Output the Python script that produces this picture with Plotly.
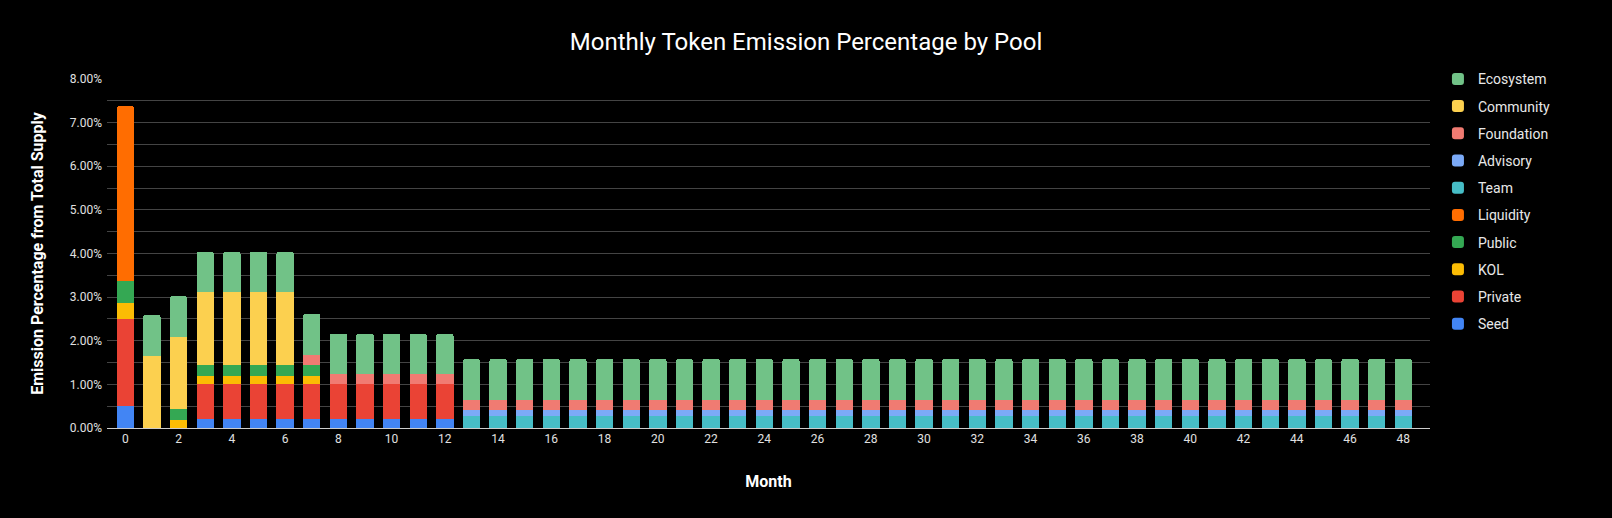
import plotly.graph_objects as go

months = list(range(49))
tick_months = [0, 2, 4, 6, 8, 10, 12, 14, 16, 18, 20, 22, 24, 26, 28, 30, 32, 34, 36, 38, 40, 42, 44, 46, 48]

# Values in % of total supply, months 0..48
seed = [0.5, 0, 0, 0.2, 0.2, 0.2, 0.2, 0.2, 0.2, 0.2, 0.2, 0.2, 0.2] + [0] * 36
private = [2.0, 0, 0, 0.8, 0.8, 0.8, 0.8, 0.8, 0.8, 0.8, 0.8, 0.8, 0.8] + [0] * 36
kol = [0.375, 0, 0.18, 0.2, 0.2, 0.2, 0.2, 0.2, 0, 0, 0, 0, 0] + [0] * 36
public = [0.5, 0, 0.25, 0.25, 0.25, 0.25, 0.25, 0.25, 0, 0, 0, 0, 0] + [0] * 36
liquidity = [4.0, 0, 0, 0, 0, 0, 0, 0, 0, 0, 0, 0, 0] + [0] * 36
team = [0, 0, 0, 0, 0, 0, 0, 0, 0, 0, 0, 0, 0] + [0.28] * 36
advisory = [0, 0, 0, 0, 0, 0, 0, 0, 0, 0, 0, 0, 0] + [0.14] * 36
foundation = [0, 0, 0, 0, 0, 0, 0, 0.23, 0.23, 0.23, 0.23, 0.23, 0.23] + [0.23] * 36
community = [0, 1.66, 1.66, 1.66, 1.66, 1.66, 1.66, 0, 0, 0, 0, 0, 0] + [0] * 36
ecosystem = [0, 0.93, 0.93, 0.93, 0.93, 0.93, 0.93, 0.93, 0.93, 0.93, 0.93, 0.93, 0.93] + [0.93] * 36

series = [
    ("Seed", seed, "#4285F4"),
    ("Private", private, "#EA4335"),
    ("KOL", kol, "#FBBC04"),
    ("Public", public, "#34A853"),
    ("Liquidity", liquidity, "#FF6D01"),
    ("Team", team, "#46BDC6"),
    ("Advisory", advisory, "#7BAAF7"),
    ("Foundation", foundation, "#F07B72"),
    ("Community", community, "#FCD04F"),
    ("Ecosystem", ecosystem, "#71C287"),
]

fig = go.Figure()
n = len(series)
for i, (name, vals, color) in enumerate(series):
    fig.add_trace(go.Bar(
        x=months, y=vals, name=name, legendgroup=name, legendrank=n - i,
        marker=dict(color=color, line=dict(width=0)),
    ))

fig.update_layout(
    width=1612, height=518,
    paper_bgcolor="#000000", plot_bgcolor="#000000",
    font=dict(family="Roboto", color="#e0e0e0", size=12),
    barmode="stack", bargap=0.35, barcornerradius=2,
    margin=dict(l=107, r=182, t=79, b=90, autoexpand=False),
    title=dict(text="Monthly Token Emission Percentage by Pool",
               x=0.5, xanchor="center", y=1 - 42 / 518, yanchor="middle",
               font=dict(size=24, color="#ffffff", family="Roboto")),
    legend=dict(x=1.006, xanchor="left", y=1.045, yanchor="top",
                traceorder="grouped", tracegroupgap=6, maxheight=500,
                font=dict(size=14, color="#e8e8e8"), bgcolor="rgba(0,0,0,0)"),
    showlegend=True,
)
fig.update_xaxes(
    range=[-0.69, 49.0], tickmode="array", tickvals=tick_months,
    ticktext=[str(m) for m in tick_months], showgrid=False, ticks="",
    showline=True, linecolor="#cccccc", linewidth=1, zeroline=False,
    tickfont=dict(size=12, color="#e0e0e0"),
    title=dict(text="Month", font=dict(size=16, color="#ffffff", family="Roboto", weight="bold"), standoff=30),
)
fig.update_yaxes(
    range=[0, 8], dtick=1, tickformat=".2f", ticksuffix="%",
    showgrid=True, gridcolor="#444444", gridwidth=1, zeroline=False, ticks="",
    minor=dict(dtick=0.5, showgrid=True, gridcolor="#444444", gridwidth=1),
    tickfont=dict(size=12, color="#e0e0e0"), ticklabelstandoff=4,
    title=dict(text="Emission Percentage from Total Supply",
               font=dict(size=16, color="#ffffff", family="Roboto", weight="bold"), standoff=22),
)

fig.write_html(
    "out.html",
    config={"displayModeBar": False},
    post_script="document.body.style.margin='0';document.body.style.background='#000';",
)
